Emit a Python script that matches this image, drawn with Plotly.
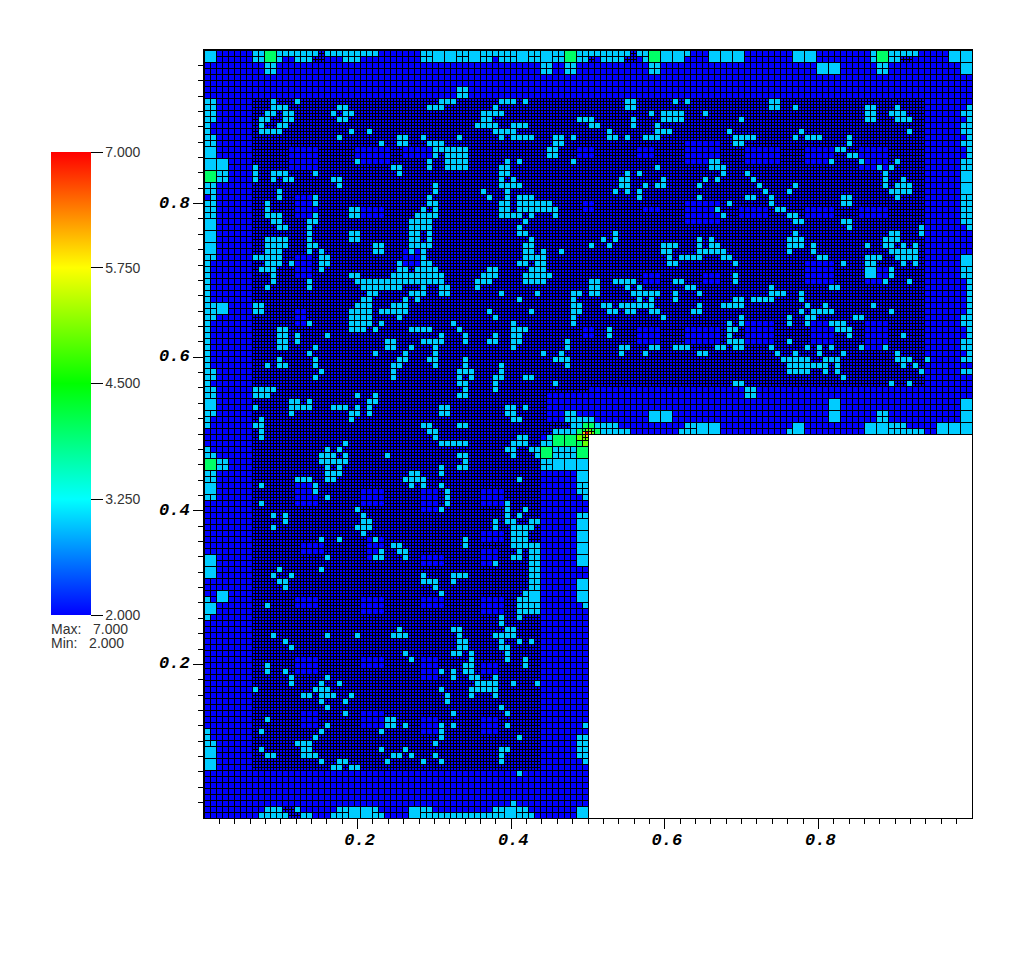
import numpy as np
import plotly.graph_objects as go

# Mesh: 128 x 128 base cells (row 0 at the top). The quadrant x>0.5, y<0.5 is absent.
N = 128
V_BLUE, V_CYAN, V_GREEN, V_LIME, V_ORANGE, V_RED = 2.0, 3.0, 4.0, 5.0, 6.0, 7.0

CYAN_LEFT = {
0:[8,9,12,13,14,15,16,17,18,20,21,22,23,24,25,26,27,28,36,37,42],
1:[8,9,12,15,16,17,23,24,25,36,37,42],
2:[10,11],3:[10,11],6:[42],7:[42],
8:[0,1,11,15,39,40,41],
9:[0,1,11,12,13,22,23,37,38,39],
10:[0,1,10,11,13,14,21,23,24],
11:[0,1,9,10,13,14,22,23],
12:[0,9,12,13],
13:[0,9,10,11,12,24,27],
14:[0,1,22,32,33,36,42],
15:[0,1,29,32,33,37,38,39],
16:[38,39,40,41,42],
17:[38,40,41,42],
18:[25,37,40,41,42],
19:[8,31,32,37,40,41,42],
20:[2,3,8,11,12,13,18,32],
21:[2,3,8,11,13,14,21,22],
22:[0,1,22,38],
23:[0,1,12,38],
24:[1,12,18,37],
25:[0,1,10,18,37,38],
26:[0,1,10,24,25,36,38],
27:[0,1,10,11,12,18,24,25,35,36,37,38],
28:[11,12,17,18,34,35,36,37],
29:[12,13,17,34,35,36,37],
30:[17,24,25,34,35,37],
31:[10,11,12,13,17,24,25,34,35,37],
32:[10,11,12,13,17,18,28,29,34,35,36,37],
33:[10,11,12,17,19,28,29,34,36],
34:[0,1,8,9,10,11,12,19,20,36],
35:[0,10,11,12,14,19,20,32,36,37],
36:[0,9,10,11,19,32,33,35,36,37,38],
37:[0,11,24,25,31,32,33,34,35,36,37,38,39],
38:[0,11,17,25,26,27,28,29,30,31,32,33,34,35,36,37,38,39],
39:[0,10,17,26,27,28,29,30,31,32,36,39,40],
40:[0,27,28,34,35,36,39,40],
41:[0,26,27,33,35],
42:[0,1,8,9,25,26,27,31,32,33],
43:[0,1,8,9,24,25,26,27,29,30,31,32,33],
44:[0,1,24,25,26,27,32],
45:[0,17,24,25,26,27,29,41],
46:[0,12,13,24,25,26,28,34,35,36,37,42],
47:[0,12,13,15,20,39],
48:[0,12,13,15,30,31,36,37,38,39],
49:[0,12,13,18,30,31,34,38],
50:[0,17,28,33,38],
51:[0,12,18,32,33,37,38],
52:[0,10,12,13,18,31,32,38],
53:[0,1,19,31,42],
54:[0,1,18,31,42],
55:[0,42],
56:[0,1,8,9,10,11],
57:[0,1,8,9,10,25,28,42],
58:[14,15,17,27,28],
59:[8,14,15,16,17,21,22,23,25,27,39,40],
60:[0,1,14,24,25,27,39,40],
61:[0,9,24],
62:[0,8,9,36,37,42],
63:[9,37,38],
}

CYAN_MIDDLE = {
0:[43,46,47,48,49,50,51,54,55,58,59,62,63,64,65,66,67,68,69,70,72,73,80],
1:[43,46,47,49,50,51,54,55,58,59,62,63,66,67,68,69,73],
2:[56,57,60,61,74,75],3:[56,57,60,61,74,75],
6:[43],7:[43],
8:[49,50,51,53,70,71,78,80],
9:[48,70,71],
10:[46,47,48,49,74,76,77,78,79,83],
11:[46,47,62,63,64,71,76,77,78,79],
12:[45,46,47,48,51,52,53,64,65,71,75],
13:[48,49,50,51,67,75,76,77],
14:[49,51,52,53,54,58,59,61,67,68,70,73,74,75],
15:[58,59],
16:[43,57,58],
17:[43,57,58],
18:[43,50,52,61,84,85],
19:[43,49,50,75,84,85],
20:[49,50,70,72],
21:[49,51,69,70,76,83,85],
22:[49,50,51,52,69,70,73,75,76,82],
23:[46,50,68,70,72],
24:[47,50,52,53,54,72,82],
25:[49,50,52,53,54,55,56,57],
26:[49,50,52,53,54,55,56,57,58,85],
27:[49,50,51,52,54,58],
28:[53],
29:[52],
30:[52,53,68],
31:[54,66,68,82,84],
32:[53,54,64,67,76,77,78,82,84,85],
33:[53,54,56,59,76,77,82,83,84,85],
34:[53,54,55,56,77,79,80,81,82],
35:[52,53,55,56,77,78],
36:[47,48,54,55,56],
37:[46,47,48,53,54,55,56,57],
38:[45,46,47,53,54,55,56,64,65,68,69,70,71,78,79],
39:[45,64,65,70,72,80,81],
40:[49,55,61,62,64,65,71,72,73,74,75,78,82],
41:[52,61,72,74,78],
42:[61,62,66,67,69,70,71,72,73,74,82],
43:[47,54,61,62,67,68,70,71,74,75,81,82],
44:[48,61,76],
45:[51,61],
46:[51,52,53,67],
47:[43,48,51,52,67],
48:[43,47,48,51,52,60],
49:[51,60,69,70,74,75,78,79,80,85],
50:[56,59,69,73,82,83],
51:[43,58,59,60],
52:[43,49,60],
53:[43,44,49],
54:[44,48,49,53,54],
55:[43,48,58],
56:[43,48],
57:[43],
59:[50,51,53],
60:[50,51,60,61],
61:[51,52,60,61,62,63,64],
62:[43,61,62,65,66,67,68,80,81],
63:[58,59,60,61,66,67,68,69,70,79,80,81],
}

CYAN_RIGHT = {
0:[111,114,115,116,117,118],1:[111,114,115],
2:[112,113],3:[112,113],
8:[94,95],
9:[94,95,98,110,111,115,127],
10:[110,111,114,115,116,126,127],
11:[89,110,111,115,116,117,127],
12:[126,127],
13:[87,99,117,126,127],
14:[88,89,90,91,98,100,101,102,107,127],
15:[88,89,107,126,127],
16:[105,106,127],
17:[107,108,127],
18:[85,104,109,115,126,127],
19:[85,86,112,114,126,127],
20:[86,90,113],
21:[85,91,113,116],
22:[92,98,113,115,116,117],
23:[93,97,114,115,116,117],
24:[90,91,94,106,107,115,126,127],
25:[87,94,106,107,126,127],
26:[85,95,96,126,127],
27:[86,97,98,126,127],
28:[98,99,106,107,126,127],
29:[107,119,127],
30:[98,114,115,119],
31:[97,98,99,113,114,115],
32:[97,98,99,101,110,113,114,116,118],
33:[85,86,97,101,114,115,116,117,118],
34:[86,87,102,103,110,111,112,115,116,117,118],
35:[88,106,110,111,116,118],
36:[114,126,127],
37:[88,114,126,127],
38:[88,113,117,127],
39:[94,104,105,127],
40:[94,95,96,99,127],
41:[88,89,91,92,93,94,99,127],
42:[86,87,88,89,100,103,111,127],
43:[99,101,102,103,104,114,127],
44:[89,97,100,101,108,109,126,127],
45:[87,89,97,100,104,105,106,126,127],
46:[87,88,105,106,107,127],
47:[87,107,116,127],
48:[87,88,89,97,126,127],
49:[85,86,88,89,94,100,102,104,109,113,126,127],
50:[95,98,102,106,115,127],
51:[96,97,98,99,100,103,104,105,115,116,117,120,126,127],
52:[97,98,99,100,101,102,103,105,116,118],
53:[97,98,99,100,103,105,119,126,127],
54:[106],
55:[88,89,114,117],
56:[90,91],
57:[90,91],
60:[112,113],61:[112,113],
62:[114,115,116],
63:[97,114,115,116,117,118,119],
}

CYAN_LOWER = {
64:[9,38,52,53,57],
65:[23,39,40,41,42,43,51,52,53,56,57],
66:[0,20,22,50,51,54,55,58,59,60,61],
67:[0,1,19,20,21,23,30,42,43,51,55,58,59,60,61],
68:[2,3,19,20,21,22,23,43,56,57],
69:[2,3,20,22,39,42,43,56,57],
70:[0,1,20,21,22,34,35,39],
71:[0,1,15,16,17,20,21,33,34,35,36,52],
72:[9,18,34,36,39,62,63],
73:[18,40,62,63],
74:[0,1,20,40,63],
75:[9,40,50],
76:[25,39,50,53],
77:[11,13,26,50,52,62,63],
78:[13,26,27,48,50,51,54,55],
79:[11,25,26,27,48,51,52,53,54],
80:[26,51,52,53],
81:[19,22,28,43,51,52,53],
82:[31,32,43,51,52,53,54,55],
83:[29,32,33,52,54,55],
84:[20,28,29,33,51,52,54,55],
85:[48,54,55],
86:[12,19,54,55],
87:[11,14,36,41,42,43,54,55],
88:[12,13,36,37,38,41,54,55],
89:[13,38,54,55],
90:[39,53],
91:[0,52,53],
92:[10,52,53,54,55,63],
93:[52,53,54,55],
94:[0,49,52],
95:[49],
96:[32,41,42,50,51],
97:[11,20,25,31,32,33,42,48,49,50,51],
98:[13,42,43,49,52,54],
99:[14,42,43,49,50],
100:[33,41,42,44,50],
101:[34,44,50,53],
102:[10,43,44,53],
103:[10,13,39,41,43,44],
104:[14,20,41,44,45,48],
105:[14,19,22,45,46,47,48,51,55],
106:[8,18,19,20,39,44,45,46,47,48],
107:[16,17,19,20,21,24,40,44,48],
108:[19,23,40],
109:[20,49],
110:[23,41,50],
111:[10,30,31],
112:[20,30,31,33,39,41,50,63],
113:[0,9,19,29,39],
114:[0,18,39,52,62,63],
115:[0,1,15,16,17,38,62,63],
116:[9,16,17,29,33,49,50,62,63],
117:[10,11,16,17,18,31,32,34,38,49,62,63],
118:[19,22,23,30,36,39,49,63],
119:[21,22,24,25],
120:[52],
125:[51],
126:[10,11,12,15,22,23,28,36,37,48,49,52,53],
127:[9,10,11,12,13,16,17,21,22,23,28,29,36,37,38,39,40,41,42,43,44,45,46,47,48,49,52,53,54],
}

# Double-size cells: (first row, first column)
BLOCKS_CYAN = [(0,0),(16,0),(18,0),(18,2),(28,0),(30,0),(32,0),(42,2),(58,0),(72,0),(84,0),(86,0),
               (90,2),(92,0),(116,0),(118,0),(0,38),(0,40),(0,44),(0,52),(0,56),(0,76),(0,78),(0,84),
               (0,86),(0,88),(0,98),(0,100),(0,124),(0,126),(2,102),(2,104),(2,126),(20,126),(22,126),
               (34,126),(58,126),(60,126),(62,126),(36,110),(58,104),(60,104),(62,98),(62,110),(62,112),
               (62,122),(62,124),(62,82),(62,84),(60,74),(60,76),(68,58),(68,60),(68,62),(70,62),(78,62),
               (80,62),(82,62),(84,62),(88,62),(90,62),(126,62),(90,54),(126,24),(126,26),(126,34),(126,50)]
BLOCKS_GREEN = [(0,10),(0,60),(0,74),(0,112),(20,0),(68,0),(64,58),(64,60),(66,56),(66,62)]

# Single cells near the re-entrant corner: (row, column, value)
CORNER_CELLS = [(62,63,V_GREEN),(62,64,V_GREEN),(63,62,V_GREEN),(63,65,V_GREEN),(64,62,V_LIME),
                (65,62,V_GREEN),(65,63,V_LIME)]
# Quarter cells at the corner itself: (row, column, value) on the doubled mesh
CORNER_FINE = [(126,126,V_GREEN),(126,127,V_LIME),(127,126,V_ORANGE),(127,127,V_RED),
               (126,128,V_LIME),(126,129,V_GREEN),(127,128,V_ORANGE),(127,129,V_LIME),
               (128,126,V_LIME),(128,127,V_ORANGE),(129,126,V_LIME),(129,127,V_LIME)]

# Patches where the background cells stay at base size: (row0,row1,col0,col1), inclusive
COARSE = [(0,7,0,127),(0,127,0,7),(0,63,120,127),(120,127,0,63),(56,63,64,127),(64,127,56,63),(57,61,57,63),
          (16,19,14,18),(24,27,15,18),(16,18,25,30),(26,27,26,29),(16,17,33,37),(34,37,15,17),
          (43,45,15,16),(33,35,33,35),(46,47,63,64),(46,48,72,75),(46,48,80,85),(37,38,73,75),
          (37,38,83,85),(16,17,62,64),(16,17,72,74),(25,26,63,64),(26,26,73,75),(15,18,80,85),
          (25,28,80,85),(16,18,90,95),(16,18,100,104),(26,27,89,93),(26,27,100,104),(16,19,109,113),
          (26,27,109,113),(45,48,90,94),(35,38,100,104),(45,48,101,104),(36,38,110,113),(45,49,110,113),
          (72,75,15,18),(73,75,26,29),(73,76,36,38),(73,75,46,49),(82,83,16,19),(81,84,27,29),
          (84,85,36,39),(80,81,46,49),(83,85,46,48),(91,92,15,18),(91,93,26,29),(91,92,36,39),
          (91,93,46,49),(101,103,15,18),(101,102,26,29),(101,104,36,38),(102,103,46,48),(110,112,16,18),
          (110,112,26,29),(111,113,36,38),(111,113,46,48)]
# Small refined spots inside the coarse bands: (row0,row1,col0,col1), inclusive
REFINED_SPOTS = [(0,1,19,19),(1,1,18,18),(0,1,70,71),(1,1,64,64),(1,1,116,117),(126,126,13,14),(127,127,14,15)]

# Colour bar and axes
SCALE_STOPS = [0.0, 0.25, 0.5, 0.75, 1.0]
SCALE_COLORS = ["#0000ff", "#00ffff", "#00ff00", "#ffff00", "#ff0000"]
BAR_TICKS = [2.0, 3.25, 4.5, 5.75, 7.0]
BAR_LABELS = ["2.000", "3.250", "4.500", "5.750", "7.000"]
MAJOR_TICKS = [0.2, 0.4, 0.6, 0.8]
MINOR_TICKS = [0.02,0.04,0.06,0.08,0.1,0.12,0.14,0.16,0.18,0.22,0.24,0.26,0.28,0.3,0.32,0.34,0.36,0.38,
               0.42,0.44,0.46,0.48,0.5,0.52,0.54,0.56,0.58,0.62,0.64,0.66,0.68,0.7,0.72,0.74,0.76,0.78,
               0.82,0.84,0.86,0.88,0.9,0.92,0.94,0.96,0.98]
INFO_LINES = ["Max:\u00a0\u00a0\u00a07.000", "Min:\u00a0\u00a0\u00a02.000"]

# Assemble the leaf cells on the finest (256 x 256) mesh
z = np.full((2*N, 2*N), V_BLUE)
ids = np.arange((2*N)**2).reshape(2*N, 2*N)
coarse = np.zeros((N, N), bool)
for r0, r1, c0, c1 in COARSE:
    coarse[r0:r1+1, c0:c1+1] = True
for r0, r1, c0, c1 in REFINED_SPOTS:
    coarse[r0:r1+1, c0:c1+1] = False
for d in (CYAN_LEFT, CYAN_MIDDLE, CYAN_RIGHT, CYAN_LOWER):
    for r, cols in d.items():
        coarse[r, cols] = True
        for c in cols:
            z[2*r:2*r+2, 2*c:2*c+2] = V_CYAN
for r, c, v in CORNER_CELLS:
    coarse[r, c] = True
    z[2*r:2*r+2, 2*c:2*c+2] = v
for r in range(N):
    for c in range(N):
        if coarse[r, c]:
            ids[2*r:2*r+2, 2*c:2*c+2] = ids[2*r, 2*c]
for blocks, v in ((BLOCKS_CYAN, V_CYAN), (BLOCKS_GREEN, V_GREEN)):
    for r, c in blocks:
        z[2*r:2*r+4, 2*c:2*c+4] = v
        ids[2*r:2*r+4, 2*c:2*c+4] = ids[2*r, 2*c]
for r, c, v in CORNER_FINE:
    z[r, c] = v
    ids[r, c] = -2 - (r*1000 + c)
z[N:, N:] = np.nan
ids[N:, N:] = -1

# Mesh lines: one segment wherever two neighbouring leaf cells differ
M = 2*N
PX = 768.0
lx, ly = [], []
def add_runs(mask, fixed, vertical):
    s = 0
    while s < M:
        if mask[s]:
            e = s
            while e + 1 < M and mask[e + 1]:
                e += 1
            a, b = s*3/PX, ((e + 1)*3 + 1)/PX
            f = (fixed*3 + 0.5)/PX
            if vertical:
                lx.extend([f, f, None]); ly.extend([1 - a, 1 - b, None])
            else:
                lx.extend([a, b, None]); ly.extend([1 - f, 1 - f, None])
            s = e + 1
        else:
            s += 1
padded = np.pad(ids, 1, constant_values=-1)
for k in range(M + 1):
    add_runs(padded[1:-1, k] != padded[1:-1, k + 1], k, True)
    add_runs(padded[k, 1:-1] != padded[k + 1, 1:-1], k, False)

edges = np.linspace(0, 1, M + 1)
fig = go.Figure()
fig.add_trace(go.Heatmap(z=z, x=edges, y=edges[::-1], colorscale=list(zip(SCALE_STOPS, SCALE_COLORS)),
    zmin=2, zmax=7, hoverinfo="skip",
    colorbar=dict(thicknessmode="pixels", thickness=40, lenmode="pixels", len=463,
                  x=(51-204)/768, xanchor="left", xpad=0, y=(818-152)/768, yanchor="top", ypad=0,
                  outlinewidth=0, tickvals=BAR_TICKS, ticktext=BAR_LABELS, ticks="outside", ticklen=12,
                  tickwidth=1, tickcolor="black", tickfont=dict(family="Liberation Sans", size=14, color="#333333"))))
fig.add_trace(go.Scatter(x=lx, y=ly, mode="lines", line=dict(color="black", width=1, simplify=False),
                         hoverinfo="skip", cliponaxis=False, showlegend=False))

axis = dict(range=[0, 1], showgrid=False, zeroline=False, showline=True, linecolor="black", linewidth=1,
            mirror=True, tickvals=MAJOR_TICKS, ticktext=[f"{v:.1f}" for v in MAJOR_TICKS], ticks="outside",
            ticklen=10, tickwidth=1, tickcolor="black",
            tickfont=dict(family="Liberation Mono", size=17, color="black", weight=700, style="italic"),
            minor=dict(tickvals=MINOR_TICKS, ticks="outside", ticklen=5, tickwidth=1, tickcolor="black", showgrid=False))
fig.update_layout(width=1016, height=954, autosize=False, margin=dict(l=196, r=52, t=42, b=144),
                  plot_bgcolor="white", paper_bgcolor="white", showlegend=False,
                  xaxis=dict(axis, ticklabelstandoff=-4, ticklabelshift=2), yaxis=dict(axis, ticklabelshift=-2))
for i, t in enumerate(INFO_LINES):
    fig.add_annotation(text=t, xref="paper", yref="paper", x=(49-204)/768, y=(818-(629+14*i))/768,
                       xanchor="left", yanchor="middle", showarrow=False,
                       font=dict(family="Liberation Sans", size=14, color="#333333"))
fig.write_html("out.html", post_script="document.querySelectorAll('.js-line').forEach(function(p){p.style.shapeRendering='crispEdges';});")
